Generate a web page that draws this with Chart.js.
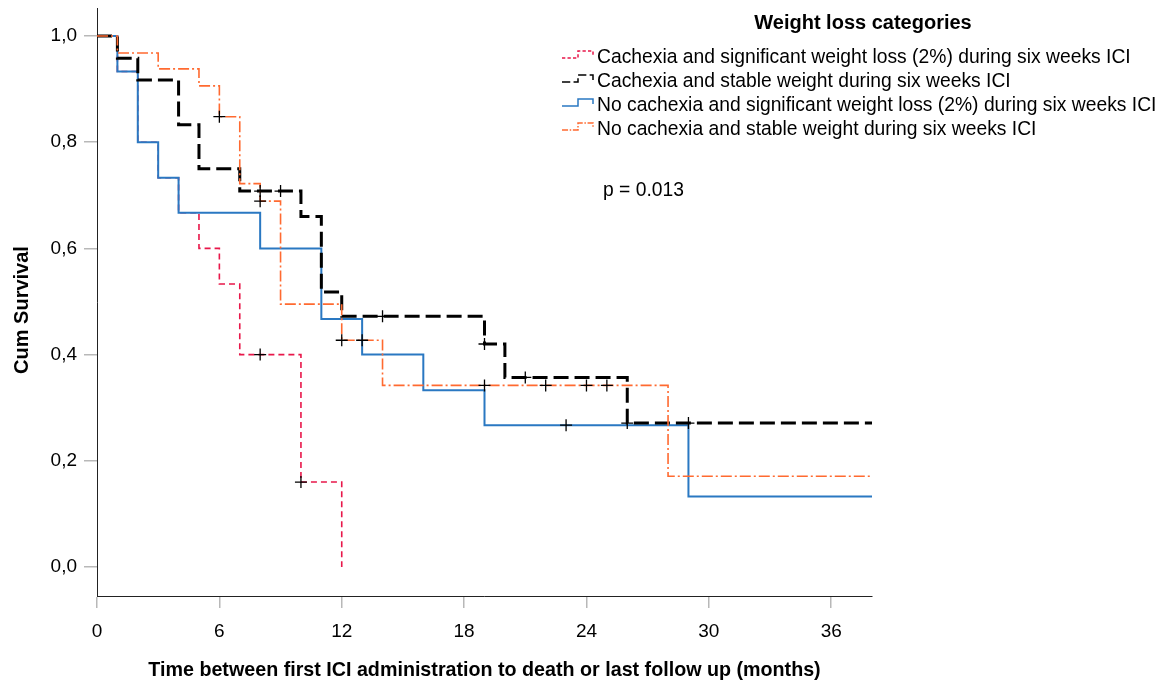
<!DOCTYPE html>
<html>
<head>
<meta charset="utf-8">
<script src="https://cdn.jsdelivr.net/npm/chart.js@4.4.1/dist/chart.umd.min.js"></script>
<style>
html,body{margin:0;padding:0;background:#fff;}
#wrap{width:1173px;height:682px;position:relative;}
</style>
</head>
<body>
<div id="wrap"><canvas id="c" width="1173" height="682"></canvas></div>
<script>
// ---- Data ----
const seriesNames = [
  "Cachexia and significant weight loss (2%) during six weeks ICI",
  "Cachexia and stable weight during six weeks ICI",
  "No cachexia and significant weight loss (2%) during six weeks ICI",
  "No cachexia and stable weight during six weeks ICI"
];
const legendTitle = "Weight loss categories";
const pValueText = "p = 0.013";
const yAxisTitle = "Cum Survival";
const xAxisTitle = "Time between first ICI administration to death or last follow up (months)";
const xTicks = [0, 6, 12, 18, 24, 30, 36];
const yTicks = [0, 0.2, 0.4, 0.6, 0.8, 1.0];

// step-function survival (time in months, cumulative survival)
const redTimes  = [0, 1, 2, 3, 4, 5, 6, 7, 10, 12];
const redSurv   = [1, 0.933, 0.8, 0.733, 0.667, 0.6, 0.533, 0.4, 0.16, 0];
const redCensT  = [8, 10];
const redCensS  = [0.4, 0.16];

const blackTimes = [0, 1, 2, 4, 5, 7, 10, 11, 12, 19, 20, 26, 38];
const blackSurv  = [1, 0.958, 0.917, 0.833, 0.75, 0.708, 0.66, 0.518, 0.472, 0.42, 0.357, 0.271, 0.271];
const blackCensT = [8, 9, 14, 19, 21, 26, 29];
const blackCensS = [0.708, 0.708, 0.472, 0.42, 0.357, 0.271, 0.271];

const blueTimes = [0, 1, 2, 3, 4, 8, 11, 13, 16, 19, 29, 38];
const blueSurv  = [1, 0.933, 0.8, 0.733, 0.667, 0.6, 0.467, 0.4, 0.333, 0.267, 0.133, 0.133];
const blueCensT = [23];
const blueCensS = [0.267];

const orangeTimes = [0, 1, 3, 5, 6, 7, 8, 9, 12, 14, 28, 38];
const orangeSurv  = [1, 0.968, 0.938, 0.906, 0.848, 0.722, 0.689, 0.495, 0.427, 0.342, 0.171, 0.171];
const orangeCensT = [6, 8, 12, 13, 19, 22, 24, 25];
const orangeCensS = [0.848, 0.689, 0.427, 0.427, 0.342, 0.342, 0.342, 0.342];

// ---- styling ----
const colors = ["#e8174a", "#000000", "#2a78c2", "#ff6a30"];
const dashes = [[6, 4], [15, 6], [], [11, 3, 2, 3]];
const widths = [1.6, 3, 2, 1.6];
const FONT = "'Liberation Sans', Arial, sans-serif";

function pts(t, s) { return t.map((v, i) => ({ x: v, y: s[i] })); }

const curves = [
  pts(redTimes, redSurv), pts(blackTimes, blackSurv),
  pts(blueTimes, blueSurv), pts(orangeTimes, orangeSurv)
];
const censors = [
  pts(redCensT, redCensS), pts(blackCensT, blackCensS),
  pts(blueCensT, blueCensS), pts(orangeCensT, orangeCensS)
];
const drawOrder = [4, 2, 3, 1]; // lower = on top

const datasets = [];
curves.forEach((d, i) => {
  datasets.push({
    type: 'line', label: seriesNames[i], data: d, stepped: 'before',
    borderColor: colors[i], borderWidth: widths[i], borderDash: dashes[i],
    pointRadius: 0, fill: false, tension: 0, order: drawOrder[i] + 4
  });
});
censors.forEach((d, i) => {
  datasets.push({
    type: 'scatter', label: 'censor' + i, data: d, showLine: false,
    pointStyle: 'cross', pointRadius: 6, borderColor: '#000', borderWidth: 1.3,
    backgroundColor: '#000', order: 0
  });
});

const legendPlugin = {
  id: 'kmLegend',
  afterDraw(chart) {
    const ctx = chart.ctx;
    ctx.save();
    ctx.fillStyle = '#000';
    ctx.textBaseline = 'middle';
    ctx.font = 'bold 20px ' + FONT;
    ctx.textAlign = 'center';
    ctx.fillText(legendTitle, 863, 23);
    ctx.textAlign = 'left';
    ctx.font = '19.3px ' + FONT;
    const rows = [57, 81, 105, 129];
    seriesNames.forEach((name, i) => {
      const yc = rows[i];
      ctx.save();
      ctx.strokeStyle = colors[i];
      ctx.lineWidth = 1.5;
      ctx.setLineDash(dashes[i].map(v => Math.max(1.5, v * 0.55)));
      ctx.beginPath();
      ctx.moveTo(562, yc + 1);
      ctx.lineTo(578, yc + 1);
      ctx.lineTo(578, yc - 6);
      ctx.lineTo(593, yc - 6);
      ctx.lineTo(593, yc - 1);
      ctx.stroke();
      ctx.restore();
      ctx.fillStyle = '#000';
      ctx.fillText(name, 597, yc + 1);
    });
    ctx.fillText(pValueText, 603, 191);
    // y-axis title
    ctx.save();
    ctx.translate(22, 310);
    ctx.rotate(-Math.PI / 2);
    ctx.textAlign = 'center';
    ctx.font = 'bold 20px ' + FONT;
    ctx.fillText(yAxisTitle, 0, 0);
    ctx.restore();
    ctx.restore();
  }
};

new Chart(document.getElementById('c'), {
  data: { datasets },
  plugins: [legendPlugin],
  options: {
    responsive: false, animation: false,
    layout: { padding: { left: 0, right: 1173 - 872, top: 8, bottom: 0 } },
    plugins: { legend: { display: false }, tooltip: { enabled: false } },
    scales: {
      x: {
        type: 'linear', min: 0, max: 38,
        afterBuildTicks(s) { s.ticks = xTicks.map(v => ({ value: v })); },
        afterFit(s) { s.height = 682 - 596; s.paddingLeft = 0; s.paddingRight = 0; },
        grid: { drawOnChartArea: false, drawTicks: true, tickLength: 12, color: '#b8b8b8', lineWidth: 1.5 },
        border: { display: true, color: '#222', width: 1 },
        ticks: { font: { family: FONT, size: 19 }, color: '#000', padding: 12, maxRotation: 0 },
        title: { display: true, text: xAxisTitle,
                 font: { family: FONT, size: 19.7, weight: 'bold' }, color: '#000', padding: { top: 10, bottom: 0 } }
      },
      y: {
        type: 'linear', min: -0.0546, max: 1.0527,
        afterBuildTicks(s) { s.ticks = yTicks.map(v => ({ value: v })); },
        afterFit(s) { s.width = 97; s.paddingTop = 0; s.paddingBottom = 0; },
        grid: { drawOnChartArea: false, drawTicks: true, tickLength: 13, color: '#b8b8b8', lineWidth: 1.5 },
        border: { display: true, color: '#222', width: 1 },
        ticks: { font: { family: FONT, size: 19 }, color: '#000', padding: 7,
                 callback: v => v.toFixed(1).replace('.', ',') },
        title: { display: false }
      }
    }
  }
});
</script>
</body>
</html>
